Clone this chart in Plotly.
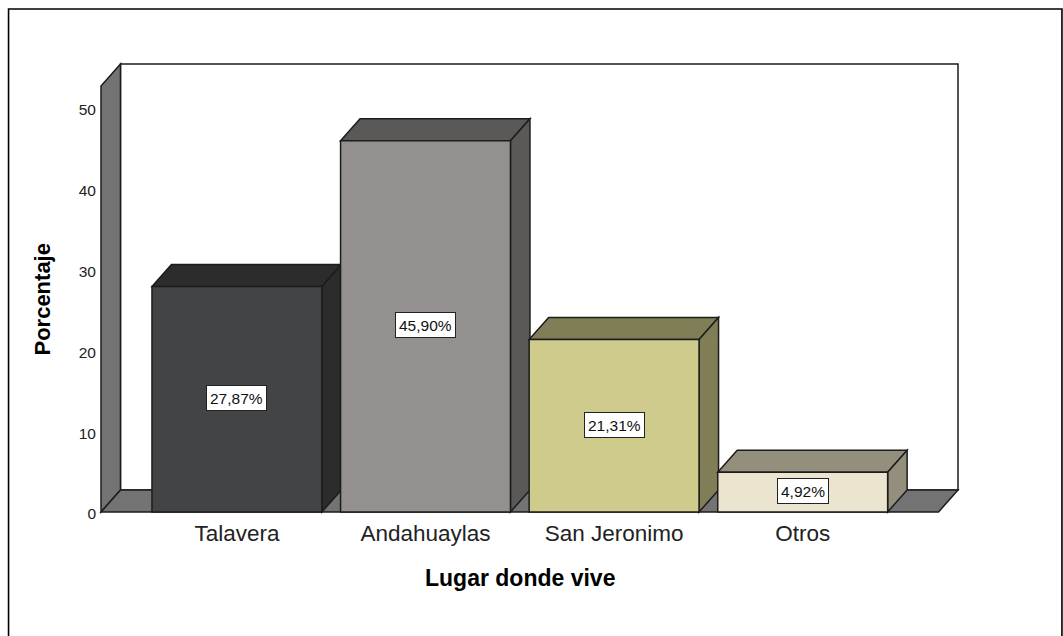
import plotly.graph_objects as go

categories = ["Talavera", "Andahuaylas", "San Jeronimo", "Otros"]
values = [27.87, 45.90, 21.31, 4.92]
front_colors = ["#434446", "#949090", "#cfcb8d", "#ebe5d0"]
face_colors = ["#2b2c2b", "#5b5957", "#807e57", "#938f7c"]
y_ticks = [0, 10, 20, 30, 40, 50]

W, H = 1063, 636
PAD = 4
PX_CAT = 188.7
PX_UNIT = 8.09
X0_PX, Y0_PX = 236.5, 512.0       # pixel position of category 0 / value 0
LEFT, RIGHT_BACK, TOP_BACK = 100.5, 958.0, 64.0
DX = 19.5 / PX_CAT                # depth offset in category units
DY = 22.0 / PX_UNIT               # depth offset in value units
BAR_W = 170.0 / PX_CAT

x_lo = (LEFT - PAD - X0_PX) / PX_CAT
x_hi = (RIGHT_BACK + PAD - X0_PX) / PX_CAT
y_lo = -PAD / PX_UNIT
y_hi = (Y0_PX - TOP_BACK + PAD) / PX_UNIT
wall_l = (LEFT - X0_PX) / PX_CAT
wall_r = (RIGHT_BACK - X0_PX) / PX_CAT - DX
wall_t = (Y0_PX - TOP_BACK) / PX_UNIT - DY

EDGE = dict(color="#1c1c1c", width=1.5)


def poly(points, fill, line=EDGE):
    path = "M " + " L ".join(f"{a},{b}" for a, b in points) + " Z"
    return dict(type="path", path=path, xref="x", yref="y", fillcolor=fill,
                line=line, layer="below")


shapes = [
    poly([(wall_l + DX, DY), (wall_r + DX, DY), (wall_r + DX, wall_t + DY),
          (wall_l + DX, wall_t + DY)], "#ffffff"),
    poly([(wall_l, 0), (wall_l, wall_t), (wall_l + DX, wall_t + DY), (wall_l + DX, DY)], "#737373"),
    poly([(wall_l, 0), (wall_r, 0), (wall_r + DX, DY), (wall_l + DX, DY)], "#737373"),
]
for i, v in enumerate(values):
    a, b = i - BAR_W / 2, i + BAR_W / 2
    shapes.append(poly([(a, v), (b, v), (b + DX, v + DY), (a + DX, v + DY)], face_colors[i]))
    shapes.append(poly([(b, 0), (b + DX, DY), (b + DX, v + DY), (b, v)], face_colors[i]))

# Outer frame, open at the bottom of the page
pw, ph = (x_hi - x_lo) * PX_CAT, (y_hi - y_lo) * PX_UNIT
ml, mt = LEFT - PAD, TOP_BACK - PAD
fx = lambda p: (p - ml) / pw
fy = lambda p: 1 - (p - mt) / ph
shapes.append(dict(type="path", xref="paper", yref="paper",
                   path=f"M {fx(8)},{fy(640)} L {fx(8)},{fy(9)} L {fx(1062)},{fy(9)} L {fx(1062)},{fy(640)}",
                   line=dict(color="#000000", width=1.6), layer="above"))

annotations = [
    dict(x=i, y=v / 2, xref="x", yref="y", text=f"{v:.2f}%".replace(".", ","), showarrow=False,
         font=dict(family="Liberation Sans", size=15.5, color="#111111"), bgcolor="#ffffff",
         bordercolor="#222222", borderwidth=1, borderpad=3, height=18, yshift=1)
    for i, v in enumerate(values)
]
annotations += [
    dict(x=fx(519.5), y=fy(578), xref="paper", yref="paper", text="<b>Lugar donde vive</b>", showarrow=False,
         xanchor="center", yanchor="middle",
         font=dict(family="Liberation Sans", size=23, color="#000000")),
    dict(x=fx(41), y=fy(299), xref="paper", yref="paper", text="<b>Porcentaje</b>", textangle=-90, showarrow=False,
         xanchor="center", yanchor="middle",
         font=dict(family="Liberation Sans", size=22, color="#000000")),
]

fig = go.Figure(go.Bar(
    x=list(range(len(values))), y=values, width=BAR_W, marker=dict(color=front_colors, line=EDGE),
    showlegend=False, hoverinfo="skip",
))
fig.update_layout(
    width=W, height=H, autosize=False, paper_bgcolor="#ffffff", plot_bgcolor="rgba(0,0,0,0)",
    margin=dict(l=ml, r=W - (RIGHT_BACK + PAD), t=mt, b=H - (Y0_PX + PAD), pad=0),
    shapes=shapes, annotations=annotations, showlegend=False,
    xaxis=dict(range=[x_lo, x_hi], tickmode="array", tickvals=list(range(len(categories))), ticktext=categories,
               showgrid=False, zeroline=False, showline=False, ticks="", ticklabelstandoff=1,
               tickfont=dict(family="Liberation Sans", size=22.5, color="#222222")),
    yaxis=dict(range=[y_lo, y_hi], tickmode="array", tickvals=y_ticks, showgrid=False, zeroline=False,
               showline=False, ticks="", ticklabelstandoff=0, ticklabelshift=2,
               tickfont=dict(family="Liberation Sans", size=15.5, color="#222222")),
)
fig.write_html("out.html", post_script="document.body.style.margin='0';", config={"displayModeBar": False})
